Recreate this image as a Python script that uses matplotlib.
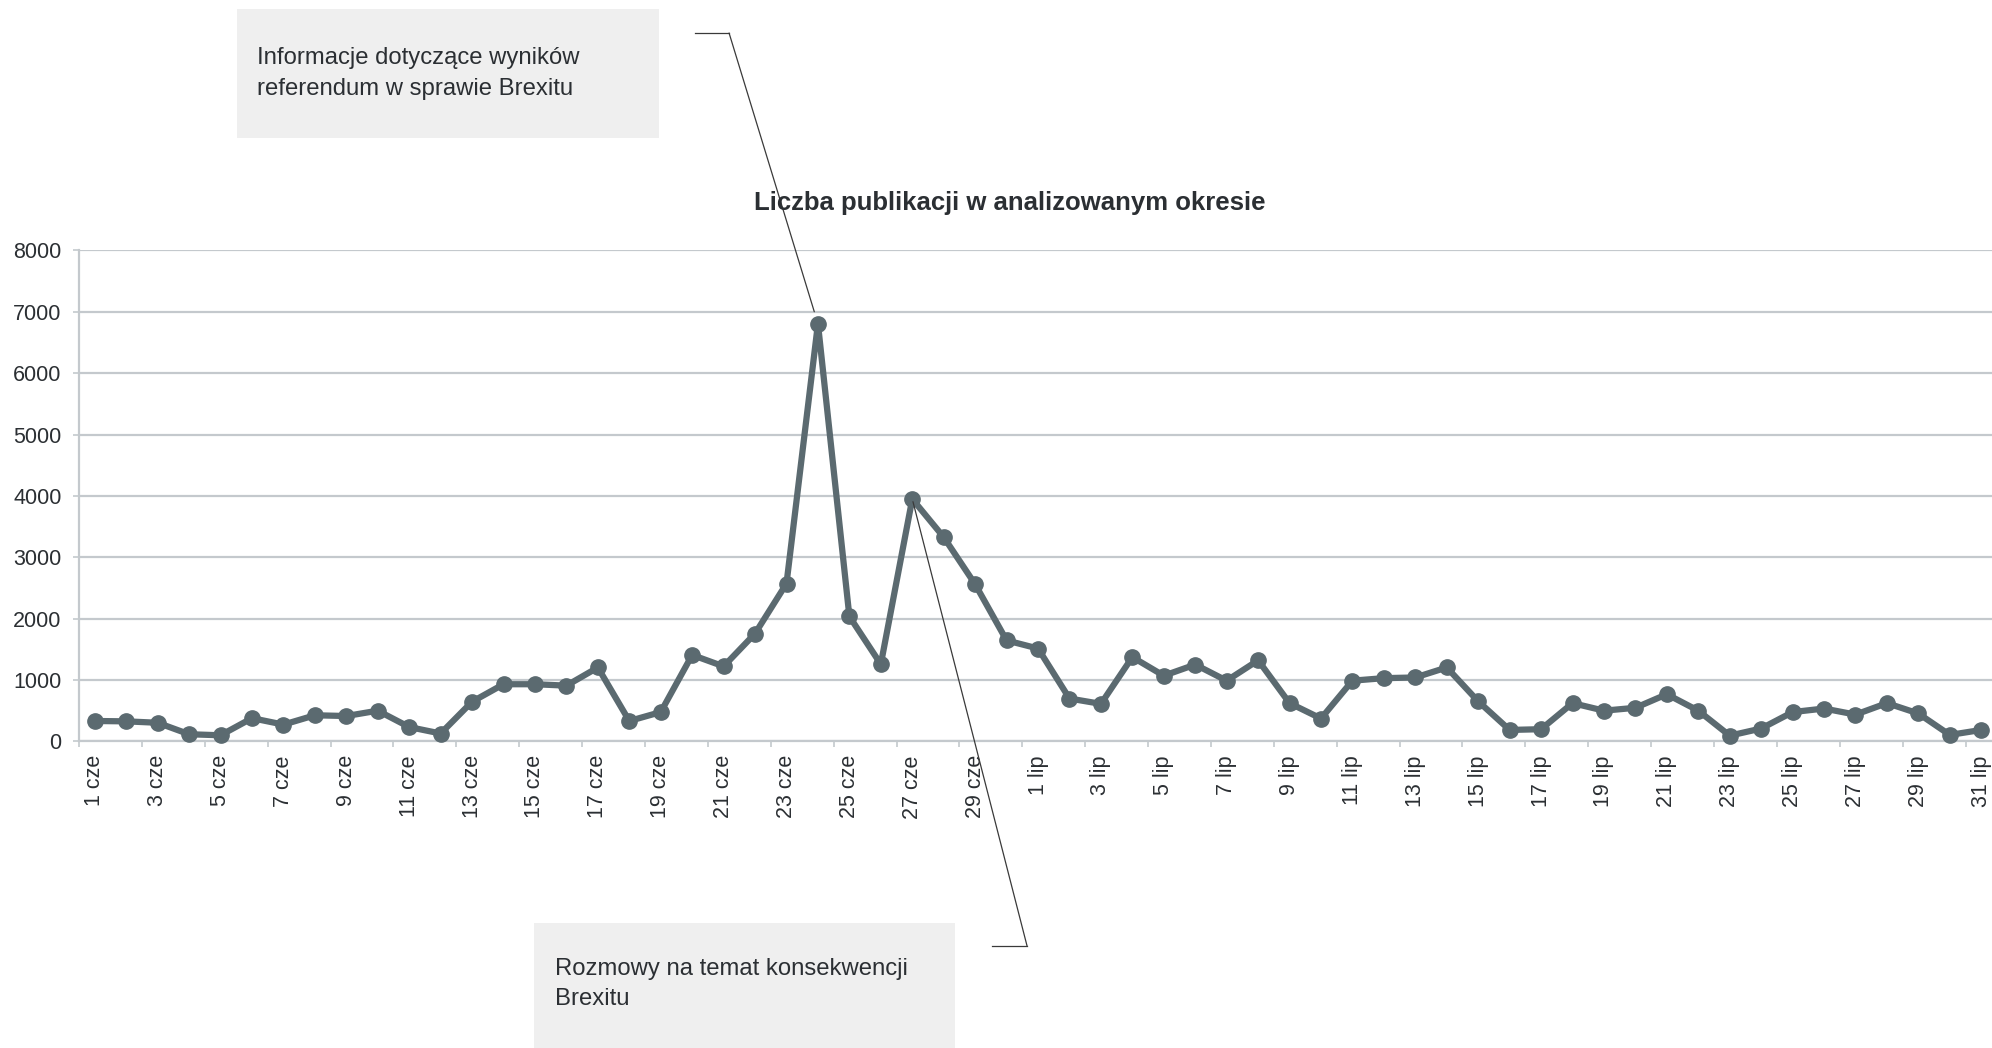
import matplotlib
matplotlib.use("Agg")
import matplotlib.pyplot as plt
from matplotlib.patches import Rectangle
from matplotlib.lines import Line2D
import numpy as np

plt.rcParams['font.family'] = ['Liberation Sans', 'DejaVu Sans']

# days of June (cze) and July (lip)
days = [f"{d} cze" for d in range(1, 31)] + [f"{d} lip" for d in range(1, 32)]
counts = [332, 326, 303, 116, 99, 378, 273, 425, 413, 500,
          233, 128, 646, 931, 931, 908, 1204, 332, 477, 1408,
          1222, 1757, 2572, 6807, 2036, 1257, 3950, 3328, 2560, 1645,
          1513, 698, 611, 1373, 1070, 1251, 989, 1321, 623, 372,
          989, 1030, 1041, 1204, 652, 186, 198, 623, 500, 547,
          768, 500, 93, 209, 477, 535, 436, 623, 454, 105, 186]
yticks = [0, 1000, 2000, 3000, 4000, 5000, 6000, 7000, 8000]

title = "Liczba publikacji w analizowanym okresie"
note_top = "Informacje dotyczące wyników\nreferendum w sprawie Brexitu"
note_bottom = "Rozmowy na temat konsekwencji\nBrexitu"
peak_day = "24 cze"
second_day = "27 cze"

line_col = '#5b6a70'
grid_col = '#c4c9cd'
text_col = '#2b2f33'

fig = plt.figure(figsize=(19.92, 10.48), dpi=100)
ax = fig.add_axes([0.0397, 0.2926, 0.9628, 0.4684])

ax.plot(days, counts, color=line_col, lw=4.5, marker='o', ms=11,
        markeredgecolor=line_col, zorder=3, clip_on=False)

ax.set_ylim(0, 8000)
ax.set_xlim(-0.5, len(days) - 0.5)
ax.set_yticks(yticks)
ax.set_yticklabels([str(v) for v in yticks])
ax.set_xticks(range(0, len(days), 2))
ax.set_xticklabels(days[::2], rotation=90)
ax.set_xticks(np.arange(-0.5, len(days), 2), minor=True)

ax.grid(axis='y', color=grid_col, lw=1.6)
ax.set_axisbelow(True)
for s in ['top', 'right']:
    ax.spines[s].set_visible(False)
ax.spines['left'].set_color(grid_col)
ax.spines['left'].set_linewidth(1.6)
ax.spines['bottom'].set_color(grid_col)
ax.spines['bottom'].set_linewidth(1.6)

ax.tick_params(axis='y', length=4.5, width=1.2, color=grid_col, pad=8,
               labelsize=15.5, labelcolor=text_col)
ax.tick_params(axis='x', which='major', length=0, pad=10,
               labelsize=15.5, labelcolor=text_col)
ax.tick_params(axis='x', which='minor', length=4.5, width=1.2, color=grid_col)

fig.text(0.507, 0.806, title, ha='center', va='center', fontsize=18.5,
         fontweight='bold', color=text_col)

# note boxes
fig.patches.append(Rectangle((0.1192, 0.8683), 0.2116, 0.1231,
                             transform=fig.transFigure, facecolor='#efefef',
                             edgecolor='none', zorder=0))
fig.text(0.129, 0.930, note_top, ha='left', va='center', fontsize=17.2,
         color=text_col, linespacing=1.5)
fig.patches.append(Rectangle((0.268, -0.01), 0.2113, 0.1293,
                             transform=fig.transFigure, facecolor='#efefef',
                             edgecolor='none', zorder=0))
fig.text(0.2786, 0.061, note_bottom, ha='left', va='center', fontsize=17.2,
         color=text_col, linespacing=1.5)

# leader lines
fig.lines.append(Line2D([0.3489, 0.366], [0.9685, 0.9685],
                        transform=fig.transFigure, color='#3a3a3a', lw=0.9))
fig.lines.append(Line2D([0.498, 0.5156], [0.0973, 0.0973],
                        transform=fig.transFigure, color='#3a3a3a', lw=0.9))
i1 = days.index(peak_day)
ax.annotate('', xy=(i1, counts[i1]), xycoords='data',
            xytext=(0.366, 0.9685), textcoords='figure fraction',
            arrowprops=dict(arrowstyle='-', color='#3a3a3a', lw=0.9,
                            shrinkA=0, shrinkB=9),
            annotation_clip=False, zorder=5)
i2 = days.index(second_day)
ax.annotate('', xy=(i2, counts[i2]), xycoords='data',
            xytext=(0.5156, 0.0973), textcoords='figure fraction',
            arrowprops=dict(arrowstyle='-', color='#3a3a3a', lw=0.9,
                            shrinkA=0, shrinkB=2),
            annotation_clip=False, zorder=5)

fig.savefig("out.png", dpi=100)
